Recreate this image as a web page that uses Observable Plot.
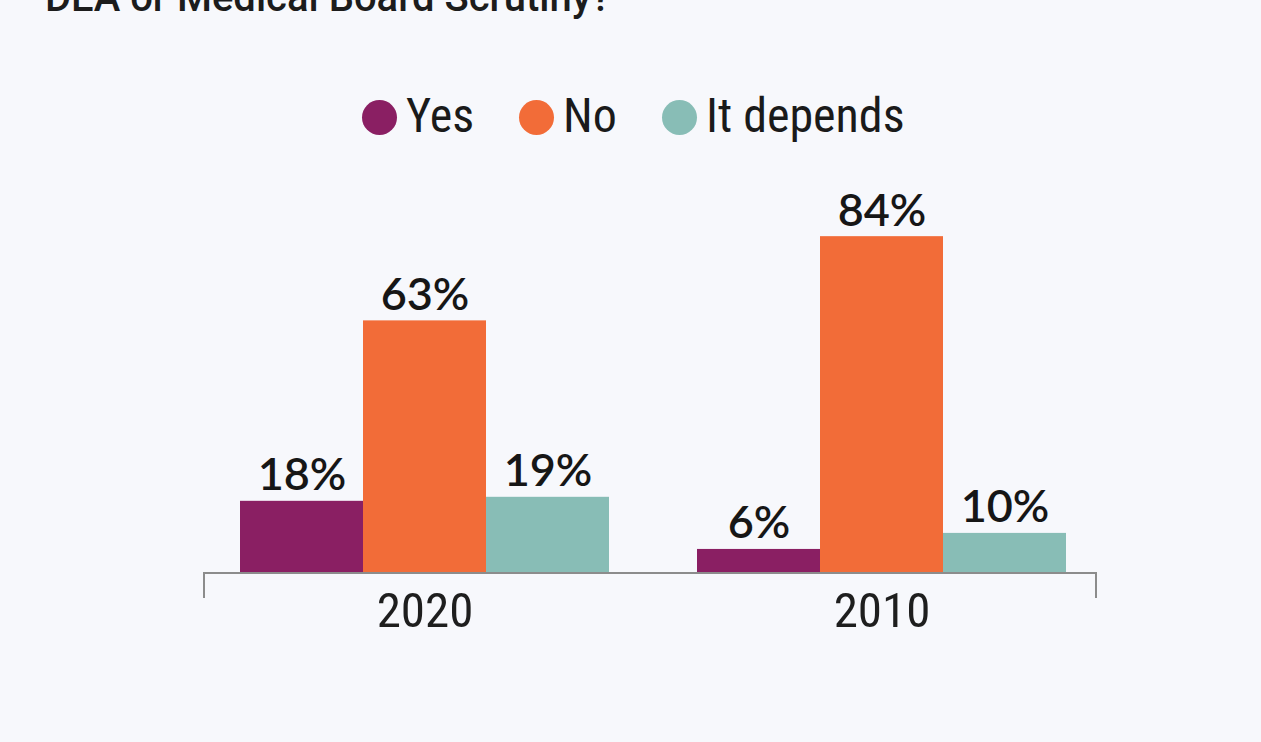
<!DOCTYPE html>
<html>
<head>
<meta charset="utf-8">
<script src="https://cdn.jsdelivr.net/npm/d3@7"></script>
<script src="https://cdn.jsdelivr.net/npm/@observablehq/plot@0.6"></script>
<style>
  html, body { margin: 0; padding: 0; background: #f7f8fc; }
  #wrap { position: relative; width: 1261px; height: 742px; overflow: hidden; background: #f7f8fc; }
  #title { position: absolute; left: 45px; top: -22px; font-family: Roboto, "Liberation Sans", sans-serif; font-weight: 500; font-size: 40px; line-height: 40px; color: #1c1c1c; white-space: nowrap; }
  #legend { position: absolute; left: 362px; top: 92px; display: flex; align-items: center; font-family: "Liberation Sans Narrow", "Roboto Condensed", "DejaVu Sans Condensed", sans-serif; font-size: 48px; line-height: 48px; color: #1a1a1a; }
  .item { display: flex; align-items: center; margin-right: 45px; }
  .dot { width: 35px; height: 35px; border-radius: 50%; margin-right: 9px; margin-top: 3px; }
  #chart { position: absolute; left: 0; top: 0; }
</style>
</head>
<body>
<div id="wrap">
  <div id="title">DEA or Medical Board Scrutiny?</div>
  <div id="legend"></div>
  <div id="chart"></div>
</div>
<script>
const years = ["2020", "2010"];
const answers = ["Yes", "No", "It depends"];
const yesValues = [18, 6];
const noValues = [63, 84];
const dependsValues = [19, 10];
const colors = ["#8a1f63", "#f26c38", "#88bdb6"];

const series = [yesValues, noValues, dependsValues];
const data = years.flatMap((year, i) =>
  answers.map((answer, j) => ({ year, answer, value: series[j][i] }))
);

// legend
const legend = document.getElementById("legend");
answers.forEach((a, i) => {
  const item = document.createElement("div");
  item.className = "item";
  const dot = document.createElement("span");
  dot.className = "dot";
  dot.style.background = colors[i];
  const label = document.createElement("span");
  label.textContent = a;
  item.appendChild(dot);
  item.appendChild(label);
  legend.appendChild(item);
});

const marginLeft = 204, marginRight = 165, marginTop = 172, marginBottom = 169;
const width = 1261, height = 742;

const plot = Plot.plot({
  width, height, marginTop, marginBottom, marginLeft, marginRight,
  style: { background: "transparent", overflow: "visible" },
  fx: { domain: years, paddingInner: 0.188, paddingOuter: 0.068, align: 0.55, axis: null, label: null },
  x: { domain: answers, padding: 0, axis: null },
  y: { domain: [0, 100], axis: null },
  color: { domain: answers, range: colors },
  marks: [
    Plot.barY(data, { fx: "year", x: "answer", y: "value", fill: "answer" }),
    Plot.text(data, {
      fx: "year", x: "answer", y: "value",
      text: d => d.value + "%",
      dy: -11, lineAnchor: "bottom",
      fontSize: 45, fontFamily: "Lato, 'Open Sans', sans-serif", fontWeight: 600,
      fill: "#161616"
    }),
    Plot.text(years, {
      fx: d => d, x: () => "No",
      frameAnchor: "bottom",
      text: d => d,
      dy: 53, lineAnchor: "bottom",
      fontSize: 49, fontFamily: "'Liberation Sans Narrow', 'Roboto Condensed', 'DejaVu Sans Condensed', sans-serif",
      fill: "#1e1e1e"
    })
  ]
});

// baseline axis with end ticks
const y0 = plot.scale("y").apply(0);
d3.select(plot).append("path")
  .attr("d", `M${marginLeft},${y0 + 25}V${y0}H${width - marginRight}V${y0 + 25}`)
  .attr("fill", "none")
  .attr("stroke", "#8c8c8c")
  .attr("stroke-width", 2);

document.getElementById("chart").appendChild(plot);
</script>
</body>
</html>
